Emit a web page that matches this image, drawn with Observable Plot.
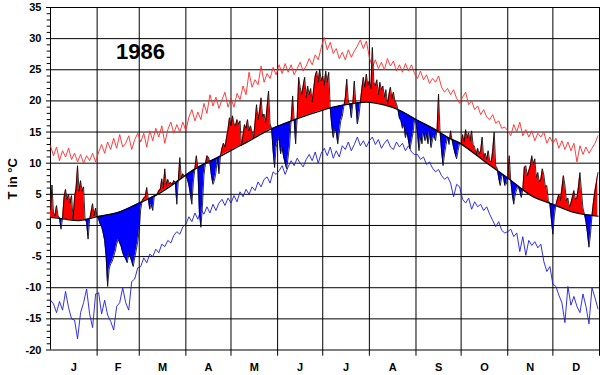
<!DOCTYPE html>
<html><head><meta charset="utf-8">
<script src="https://cdn.jsdelivr.net/npm/d3@7"></script>
<script src="https://cdn.jsdelivr.net/npm/@observablehq/plot@0.6"></script>
<style>
html,body{margin:0;padding:0;background:#fff;}
#chart svg{display:block;}
</style></head><body><div id="chart"></div>
<script>
// ---- categories / ticks ----
const monthLetters = ["J","F","M","A","M","J","J","A","S","O","N","D"];
const monthDays = [31,28,31,30,31,30,31,31,30,31,30,31];
const yTicks = [-20,-15,-10,-5,0,5,10,15,20,25,30,35];
const title = "1986";
const yLabel = "T in °C";

// ---- daily mean temperature 1986 (one value per day) ----
const tJan = [2.5,6.5,2.0,1.6,3.2,1.6,1.2,-0.6,1.1,4.5,5.8,4.2,5.0,3.6,4.8,1.0,4.5,6.0,9.6,5.5,7.2,5.5,6.2,1.0,0.5,-2.2,0.9,2.2,3.5,1.6,2.8];
const tFeb = [1.4,1.0,0.2,-0.2,-1.2,-2.4,-5.0,-9.8,-7.0,-6.2,-5.8,-5.0,-4.2,-3.0,-2.2,-2.8,-3.4,-4.4,-5.0,-5.4,-6.0,-4.6,-5.0,-5.8,-6.6,-5.2,-4.0,-2.6];
const tMar = [-0.8,2.6,4.0,4.4,4.6,6.1,4.3,2.6,3.4,2.4,4.7,4.8,5.0,5.6,5.8,7.5,6.0,9.1,6.6,7.4,6.7,6.9,6.6,7.2,6.9,3.4,7.3,10.9,7.6,8.3,7.9];
const tApr = [8.1,7.4,6.5,5.0,3.4,7.0,9.1,11.2,9.2,2.0,-0.3,3.0,8.0,9.9,11.2,11.0,10.1,8.0,6.6,7.2,8.5,10.9,8.3,11.1,12.4,13.2,12.6,14.0,15.4,17.3];
const tMay = [16.0,17.6,16.4,16.0,17.0,16.2,16.8,12.8,14.5,16.2,15.6,17.0,15.2,16.0,15.0,14.0,16.5,19.4,17.0,18.4,20.5,17.5,17.9,16.5,19.0,21.6,16.3,15.6,12.0,9.3,12.5];
const tJun = [13.6,14.0,11.5,12.5,11.0,10.0,9.1,11.0,12.9,16.9,20.8,17.0,13.1,17.2,23.8,22.2,21.0,22.4,23.8,20.5,22.4,21.0,22.0,19.8,22.0,24.0,24.8,23.0,25.1,23.2];
const tJul = [24.0,22.5,24.8,23.0,24.6,18.8,16.0,14.1,15.5,15.0,13.1,15.0,16.8,17.5,19.1,20.5,23.5,20.0,19.4,17.3,19.5,23.2,19.6,16.3,17.5,19.7,22.0,23.8,22.2,24.3,22.5];
const tAug = [23.2,22.0,28.6,23.0,22.4,23.4,21.0,23.0,21.8,22.4,20.6,21.8,19.4,21.0,22.2,20.4,21.4,20.0,19.6,18.6,17.2,16.8,15.6,16.2,14.1,15.0,13.6,12.3,13.5,14.8,16.8];
const tSep = [16.6,14.8,12.0,14.2,13.1,15.0,13.6,14.6,13.1,15.2,12.5,13.8,14.4,13.6,15.3,21.1,15.0,12.0,9.6,11.5,13.0,14.2,13.0,15.2,13.7,12.5,11.5,10.7,12.0,13.2];
const tOct = [13.1,14.6,13.4,15.4,14.0,14.9,13.6,15.2,13.0,12.6,11.4,12.4,11.5,12.0,14.2,10.8,11.6,10.6,12.0,10.4,10.2,12.0,15.0,9.6,9.2,7.6,6.4,7.8,8.1,6.4,6.6];
const tNov = [7.6,11.2,7.2,5.0,3.4,5.0,5.8,6.2,5.5,4.5,5.7,9.3,9.6,8.0,8.8,9.6,11.2,9.8,10.7,7.7,8.5,7.0,7.4,9.1,8.1,6.2,6.4,4.0,3.5,1.0];
const tDec = [-1.4,1.5,3.3,4.2,5.0,4.0,6.0,8.0,6.5,4.0,4.4,2.9,3.6,4.6,5.6,4.2,4.4,6.2,8.5,5.6,2.8,1.8,0.6,-1.2,-3.5,-1.5,1.6,3.8,5.6,7.0,8.5];

// ---- long-term normal (smooth curve), read at these days of year ----
const normDay = [0,10,20,31,45,59,74,90,100,111,122,133,144,155,166,177,188,199,210,221,232,244,255,266,273,288,299,310,321,334,348,364];
const normVal = [1.3,1.0,0.8,1.4,2.1,3.6,5.4,8.1,9.6,10.9,12.3,13.7,15.2,16.3,17.3,18.2,19.0,19.5,19.8,19.4,18.5,16.9,15.5,13.9,13.1,10.4,8.5,6.5,4.6,3.4,2.1,1.5];

// ---- extreme curves, every second day (red = highest, blue = lowest) ----
const extStep = 2;
const hiJan = [12.8,11.2,12.6,10.4,12.0,11.0,12.4,10.6,11.6,10.2,11.4,10.0,11.2,10.4,11.6,10.2];
const hiFeb = [11.8,13.0,11.6,13.4,12.2,14.0,12.4,14.6,12.6,13.2,14.4,12.2,13.8,14.8];
const hiMar = [13.4,14.8,12.6,15.2,13.6,15.6,14.2,16.0,13.2,15.4,16.6,14.8,16.2,15.0,16.6];
const hiApr = [15.2,17.4,18.6,16.8,18.2,17.0,19.6,18.0,21.0,19.2,20.6,18.8,20.2,21.4,19.0];
const hiMay = [20.4,19.0,21.2,20.2,22.4,21.0,24.6,22.2,23.4,22.6,25.6,23.0,24.4,23.6,25.4,24.2];
const hiJun = [25.8,24.4,26.0,24.6,25.8,24.2,25.2,26.2,24.8,25.6,26.8,25.8,27.4,26.6,28.6];
const hiJul = [30.2,28.2,29.4,27.6,28.4,26.8,27.8,26.6,28.2,27.0,28.0,28.8,29.8,28.4,29.6];
const hiAug = [27.0,25.4,26.6,25.2,26.2,25.0,26.8,25.6,26.4,24.8,25.8,24.6,26.0,24.8,25.8,24.4];
const hiSep = [23.6,24.8,23.4,24.2,22.8,23.6,23.0,24.0,22.2,21.4,22.0,21.0,21.8,20.4,19.6];
const hiOct = [20.6,21.4,19.4,20.0,18.6,19.2,17.8,18.6,17.4,17.0,17.8,16.4,16.8,15.6,15.8];
const hiNov = [15.2,14.4,16.2,15.0,16.6,14.4,15.4,14.2,15.2,13.6,14.8,14.2,15.0,13.2,14.2];
const hiDec = [13.2,14.0,12.4,13.6,12.2,13.4,12.0,13.2,10.2,12.8,11.4,12.6,11.6,12.4,13.2,14.4];

const loJan = [-12.0,-12.6,-14.0,-12.2,-13.6,-10.6,-13.2,-15.0,-15.2,-18.2,-14.0,-12.4,-10.2,-14.2,-16.4,-11.0];
const loFeb = [-10.8,-14.2,-12.0,-14.4,-15.4,-16.8,-13.0,-12.4,-10.0,-12.4,-13.6,-9.0,-8.6,-6.8];
const loMar = [-6.6,-5.2,-6.0,-4.6,-5.0,-3.8,-4.4,-3.0,-3.4,-2.4,-2.8,-1.6,-1.0,-1.4,-0.2];
const loApr = [0.2,1.4,0.6,2.0,1.0,2.6,1.8,3.0,2.0,3.4,2.4,3.6,4.2,3.2,4.4];
const loMay = [3.6,4.8,3.8,5.4,4.6,5.8,5.0,6.2,5.6,7.0,6.2,7.4,7.8,6.8,8.6,8.2];
const loJun = [8.8,9.6,8.2,9.4,10.4,9.6,10.8,10.0,9.4,10.6,11.4,10.4,11.8,10.0,11.6];
const loJul = [12.4,11.2,12.6,10.8,12.0,11.0,12.8,12.2,13.4,12.0,13.0,14.2,12.8,13.6,12.6];
const loAug = [13.6,14.2,13.0,13.8,12.4,13.2,13.8,12.6,12.2,13.4,12.6,13.2,12.0,12.8,11.8,11.4];
const loSep = [11.4,10.6,11.0,9.8,10.2,9.2,8.6,9.0,8.0,7.4,7.8,6.8,4.6,6.6,6.2];
const loOct = [4.2,3.6,4.4,2.6,3.8,3.0,3.4,2.4,3.0,1.8,0.8,-0.2,0.6,-0.8,-1.2];
const loNov = [-1.0,-0.6,-1.8,-1.2,-4.2,-1.8,-4.8,-2.4,-3.2,-2.6,-3.6,-3.0,-5.8,-7.4,-6.6];
const loDec = [-9.4,-9.8,-11.2,-12.4,-15.6,-9.8,-12.8,-11.4,-13.0,-14.0,-11.0,-13.0,-15.8,-10.0,-11.6,-13.4];

// ---- assemble tables ----
const temp = [].concat(tJan,tFeb,tMar,tApr,tMay,tJun,tJul,tAug,tSep,tOct,tNov,tDec);
const hi = [].concat(hiJan,hiFeb,hiMar,hiApr,hiMay,hiJun,hiJul,hiAug,hiSep,hiOct,hiNov,hiDec);
const lo = [].concat(loJan,loFeb,loMar,loApr,loMay,loJun,loJul,loAug,loSep,loOct,loNov,loDec);
const tempData = temp.map((v, i) => ({d: i, v}));
const normData = normDay.map((d, i) => ({d, v: normVal[i]}));
const extData = hi.map((v, i) => ({d: i * extStep, hi: v, lo: lo[i]}));
const bounds = Array.from(d3.cumsum(monthDays));          // month ends
const starts = [0, ...bounds.slice(0, -1)];
const mids = starts.map((s, i) => s + monthDays[i] / 2);
const minor = d3.range(-20, 36).filter(v => v % 5 !== 0);

const CLIP_A = "#010203", CLIP_B = "#040506";

const chart = Plot.plot({
  width: 600, height: 375,
  marginLeft: 50, marginRight: 1, marginTop: 7, marginBottom: 25.5,
  x: {domain: [0, 365], axis: null},
  y: {domain: [-20, 35], ticks: yTicks, tickSize: 4, label: null, tickFormat: d => String(d)},
  style: {fontFamily: "'Liberation Sans', Arial, sans-serif", fontSize: "11px", fontWeight: "bold", background: "#fff", color: "#000", overflow: "visible"},
  marks: [
    Plot.ruleY(yTicks, {stroke: "#000", strokeWidth: 1}),
    Plot.ruleY(minor, {x1: -2.2, x2: 0, stroke: "#000", strokeWidth: 1}),
    Plot.ruleX(bounds, {y1: -21, y2: 35, stroke: "#000", strokeWidth: 1}),
    Plot.ruleX([0], {y1: -20, y2: 35, stroke: "#000", strokeWidth: 1}),
    // clip helpers (removed after render)
    Plot.areaY(normData, {x: "d", y1: 35, y2: "v", curve: "natural", fill: CLIP_A}),
    Plot.areaY(normData, {x: "d", y1: -20, y2: "v", curve: "natural", fill: CLIP_B}),
    // warm / cold fills
    Plot.areaY(tempData, {x: "d", y1: -20, y2: "v", fill: "#ff0000"}),
    Plot.areaY(tempData, {x: "d", y1: 35, y2: "v", fill: "#0000ff"}),
    // extreme curves
    Plot.line(extData, {x: "d", y: "hi", stroke: "#ff2a2a", strokeWidth: 0.9}),
    Plot.line(extData, {x: "d", y: "lo", stroke: "#1c1cdc", strokeWidth: 0.9}),
    // daily temperature and normal
    Plot.line(tempData, {x: "d", y: "v", stroke: "#000", strokeWidth: 0.8}),
    Plot.line(normData, {x: "d", y: "v", curve: "natural", stroke: "#000", strokeWidth: 1.3}),
    // texts
    Plot.text([title], {frameAnchor: "top-left", dx: 90, dy: 44, textAnchor: "middle", lineAnchor: "middle", fontSize: 22, fontWeight: "bold", fill: "#000"}),
    Plot.text(monthLetters, {x: mids, frameAnchor: "bottom", dy: 17, lineAnchor: "middle", textAnchor: "middle", fontSize: 11, fontWeight: "bold", fill: "#000"}),
    Plot.text([yLabel], {frameAnchor: "left", dx: -38, rotate: -90, textAnchor: "middle", lineAnchor: "middle", fontSize: 13, fontWeight: "bold", fill: "#000"})
  ]
});

// turn the two helper areas into clip paths
const svg = chart.tagName.toLowerCase() === "svg" ? chart : chart.querySelector("svg");
const ns = "http://www.w3.org/2000/svg";
const defs = document.createElementNS(ns, "defs");
svg.insertBefore(defs, svg.firstChild);
function makeClip(color, id) {
  const g = svg.querySelector(`g[fill="${color}"]`);
  const cp = document.createElementNS(ns, "clipPath");
  cp.setAttribute("id", id);
  g.querySelectorAll("path").forEach(p => {
    const q = document.createElementNS(ns, "path");
    q.setAttribute("d", p.getAttribute("d"));
    cp.appendChild(q);
  });
  defs.appendChild(cp);
  g.remove();
}
makeClip(CLIP_A, "clipAbove");
makeClip(CLIP_B, "clipBelow");
svg.querySelector('g[fill="#ff0000"]').setAttribute("clip-path", "url(#clipAbove)");
svg.querySelector('g[fill="#0000ff"]').setAttribute("clip-path", "url(#clipBelow)");

document.getElementById("chart").appendChild(chart);
</script>
</body></html>
